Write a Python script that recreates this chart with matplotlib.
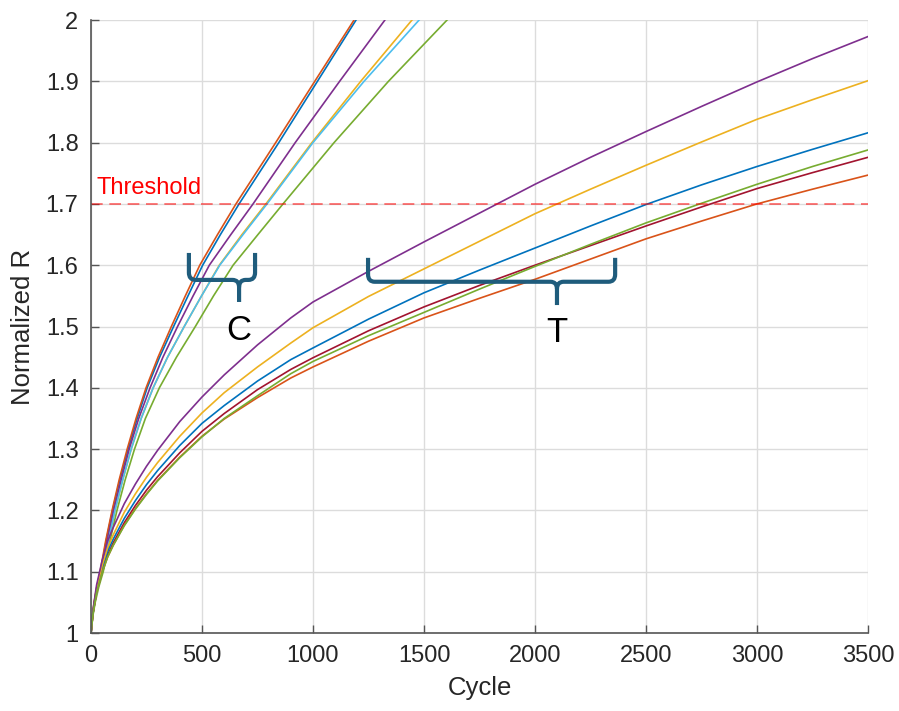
import matplotlib
matplotlib.use("Agg")
import matplotlib.pyplot as plt
from matplotlib.path import Path
from matplotlib.patches import PathPatch
from matplotlib.ticker import FuncFormatter
import numpy as np

plt.rcParams["font.family"] = ["Liberation Sans", "DejaVu Sans"]

# MATLAB default line colours, in plotting order
colors = ["#0072BD", "#D95319", "#EDB120", "#7E2F8E", "#77AC30", "#4DBEEE", "#A2142F"]

# group C: cycle at which each curve reaches a given normalized R
c_levels = [1.0, 1.025, 1.05, 1.075, 1.1, 1.15, 1.2, 1.25, 1.3, 1.35, 1.4, 1.45,
            1.5, 1.55, 1.6, 1.65, 1.7, 1.8, 1.9, 2.0]
c_blue = [0, 5, 15, 27, 43, 68, 97, 130, 167, 208, 253, 309, 372, 437, 503, 583, 667, 846, 1020, 1194]
c_orange = [0, 5, 14, 26, 41, 66, 95, 127, 163, 203, 248, 302, 362, 425, 490, 570, 653, 832, 1008, 1185]
c_yellow = [0, 6, 17, 31, 50, 78, 108, 143, 181, 226, 280, 345, 420, 498, 578, 680, 788, 995, 1215, 1446]
c_purple = [0, 6, 16, 29, 47, 73, 102, 136, 172, 215, 266, 324, 390, 460, 533, 630, 730, 920, 1120, 1324]
c_green = [0, 7, 19, 35, 55, 85, 117, 154, 196, 245, 308, 385, 470, 552, 640, 752, 865, 1095, 1340, 1604]
c_cyan = [0, 6, 17, 31, 50, 78, 108, 143, 181, 226, 280, 345, 420, 498, 580, 685, 793, 1000, 1230, 1478]

# group T: normalized R at given cycles
t_cycles = [0, 10, 25, 50, 75, 100, 150, 200, 250, 300, 400, 500, 600, 750, 900, 1000,
            1250, 1500, 1750, 2000, 2250, 2500, 2750, 3000, 3250, 3500]
t_red = [1.0, 1.035, 1.067, 1.101, 1.127, 1.147, 1.180, 1.208, 1.233, 1.255, 1.294, 1.329, 1.358,
         1.397, 1.430, 1.449, 1.493, 1.532, 1.567, 1.600, 1.632, 1.664, 1.695, 1.725, 1.751, 1.776]
t_blue = [1.0, 1.036, 1.070, 1.105, 1.133, 1.153, 1.187, 1.216, 1.242, 1.265, 1.306, 1.342, 1.371,
          1.411, 1.446, 1.465, 1.512, 1.555, 1.592, 1.628, 1.664, 1.699, 1.731, 1.761, 1.789, 1.816]
t_orange = [1.0, 1.034, 1.066, 1.099, 1.124, 1.143, 1.176, 1.203, 1.227, 1.249, 1.287, 1.321, 1.349,
            1.384, 1.416, 1.434, 1.476, 1.514, 1.546, 1.577, 1.610, 1.643, 1.672, 1.700, 1.724, 1.747]
t_yellow = [1.0, 1.037, 1.073, 1.110, 1.139, 1.160, 1.197, 1.227, 1.254, 1.278, 1.321, 1.359, 1.392,
            1.434, 1.473, 1.498, 1.549, 1.594, 1.639, 1.684, 1.724, 1.763, 1.801, 1.838, 1.870, 1.901]
t_purple = [1.0, 1.040, 1.078, 1.118, 1.150, 1.172, 1.211, 1.243, 1.272, 1.298, 1.345, 1.385, 1.421,
            1.470, 1.514, 1.540, 1.590, 1.638, 1.685, 1.732, 1.776, 1.818, 1.859, 1.899, 1.937, 1.973]
t_green = [1.0, 1.034, 1.066, 1.098, 1.124, 1.143, 1.175, 1.202, 1.226, 1.248, 1.286, 1.320, 1.350,
           1.387, 1.423, 1.443, 1.485, 1.523, 1.561, 1.598, 1.634, 1.669, 1.701, 1.732, 1.761, 1.788]

threshold = 1.7


def brace(ax, x0, x1, xtip, ytop, ybar, ybot, rx, ry, color):
  verts = [(x0, ytop), (x0, ybar + ry), (x0, ybar), (x0 + rx, ybar),
           (xtip - rx, ybar), (xtip, ybar), (xtip, ybar - ry), (xtip, ybot),
           (x1, ytop), (x1, ybar + ry), (x1, ybar), (x1 - rx, ybar),
           (xtip + rx, ybar), (xtip, ybar), (xtip, ybar - ry)]
  codes = [Path.MOVETO, Path.LINETO, Path.CURVE3, Path.CURVE3,
           Path.LINETO, Path.CURVE3, Path.CURVE3, Path.LINETO,
           Path.MOVETO, Path.LINETO, Path.CURVE3, Path.CURVE3,
           Path.LINETO, Path.CURVE3, Path.CURVE3]
  ax.add_patch(PathPatch(Path(verts, codes), fill=False, edgecolor=color,
                         linewidth=3, capstyle="butt", joinstyle="round", zorder=5))


fig = plt.figure(figsize=(8.99, 7.11), dpi=100)
ax = fig.add_axes([91 / 899, 1 - 633 / 711, 777 / 899, 613 / 711])

lw = 1.2
ax.plot(c_blue, c_levels, color=colors[0], lw=lw)
ax.plot(c_orange, c_levels, color=colors[1], lw=lw)
ax.plot(c_yellow, c_levels, color=colors[2], lw=lw)
ax.plot(c_purple, c_levels, color=colors[3], lw=lw)
ax.plot(c_green, c_levels, color=colors[4], lw=lw)
ax.plot(c_cyan, c_levels, color=colors[5], lw=lw)
ax.plot(t_cycles, t_red, color=colors[6], lw=lw)
ax.plot(t_cycles, t_blue, color=colors[0], lw=lw)
ax.plot(t_cycles, t_orange, color=colors[1], lw=lw)
ax.plot(t_cycles, t_yellow, color=colors[2], lw=lw)
ax.plot(t_cycles, t_purple, color=colors[3], lw=lw)
ax.plot(t_cycles, t_green, color=colors[4], lw=lw)

ax.axhline(threshold, color="red", alpha=0.6, lw=1.2, dashes=(7, 4))
ax.text(27, 1.716, "Threshold", color="red", fontsize=17, va="baseline", ha="left")

brace_color = "#1F5C7C"
brace(ax, 441, 739, 667, 1.620, 1.576, 1.540, 30, 0.012, brace_color)
brace(ax, 1248, 2361, 2099, 1.612, 1.573, 1.535, 30, 0.012, brace_color)
ax.text(667, 1.494, "C", fontsize=25, ha="center", va="center")
ax.text(2099, 1.490, "T", fontsize=25, ha="center", va="center")

ax.set_xlim(0, 3500)
ax.set_ylim(1, 2)
ax.set_xticks(np.arange(0, 3501, 500))
ax.set_yticks(np.arange(1, 2.001, 0.1))
ax.yaxis.set_major_formatter(FuncFormatter(lambda v, p: "%g" % round(v, 1)))
ax.grid(True, color="#dcdcdc", lw=1)
ax.set_axisbelow(True)
for s in ["top", "right"]:
  ax.spines[s].set_visible(False)
for s in ["left", "bottom"]:
  ax.spines[s].set_color("#555555")
  ax.spines[s].set_linewidth(1.2)
ax.tick_params(direction="in", length=6, width=1, colors="#555555",
               labelcolor="#262626", labelsize=17, pad=9)
ax.set_xlabel("Cycle", fontsize=18.5, color="#262626", labelpad=6)
ax.set_ylabel("Normalized R", fontsize=18.5, color="#262626", labelpad=8)

fig.savefig("out.png", dpi=100)
